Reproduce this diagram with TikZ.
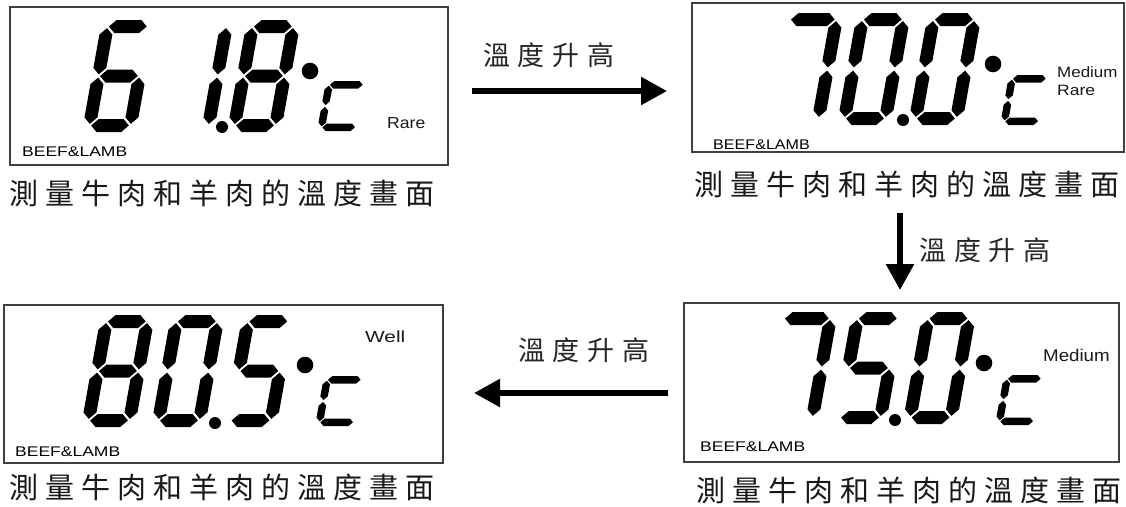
\documentclass[tikz,border=0pt]{standalone}
\usepackage{fontspec}
\setmainfont{Liberation Sans}
\newfontfamily\cjk{Noto Sans CJK TC}
\usepackage{graphicx}
\usetikzlibrary{arrows.meta}

\tikzset{
 panel/.style={draw=black!75, line width=1.3pt, anchor=north west, inner sep=0pt, outer sep=0pt},
 lcd/.style={fill=black},
 lbl/.style={anchor=west, inner sep=0pt, text=black!90},
 tag/.style={anchor=west, inner sep=0pt, font=\fontsize{14}{16}\selectfont},
 capt/.style={inner sep=0pt, font=\cjk\fontsize{29}{32}\selectfont, text=black!90},
 uplbl/.style={inner sep=0pt, font=\cjk\fontsize{27}{30}\selectfont, text=black!85},
 bigarrow/.style={line width=5.5pt, -{Triangle[length=26pt,width=27pt]}},
}

% horizontal segment: #1 = centre y, #2 = extra left extension
\newcommand\hseg[2]{\fill[lcd] ({\dTh+\dG-#2},{#1}) -- ({\dT+\dG-#2},{#1-\dTh}) -- ({\dW-\dT-\dG},{#1-\dTh}) -- ({\dW-\dTh-\dG},{#1}) -- ({\dW-\dT-\dG},{#1+\dTh}) -- ({\dT+\dG-#2},{#1+\dTh}) -- cycle;}
% vertical segment: #1 = centre x, #2 top tip y, #3 bottom tip y
\newcommand\vseg[3]{\fill[lcd] ({#1},{#2}) -- ({#1+\dTh},{#2+\dTh}) -- ({#1+\dTh},{#3-\dTh}) -- ({#1},{#3}) -- ({#1-\dTh},{#3-\dTh}) -- ({#1-\dTh},{#2+\dTh}) -- cycle;}
% flags a b c d e f g
\def\segflags#1#2#3#4#5#6#7{%
 \ifnum#1>0 \ifnum#1=2 \hseg{\dTh}{6}\else\hseg{\dTh}{0}\fi\fi
 \ifnum#2>0 \vseg{\dW-\dTh}{\dTh+\dG}{\dM-\dG}\fi
 \ifnum#3>0 \vseg{\dW-\dTh}{\dM+\dG}{\dH-\dTh-\dG}\fi
 \ifnum#4>0 \hseg{\dH-\dTh}{0}\fi
 \ifnum#5>0 \vseg{\dTh}{\dM+\dG}{\dH-\dTh-\dG}\fi
 \ifnum#6>0 \vseg{\dTh}{\dTh+\dG}{\dM-\dG}\fi
 \ifnum#7>0 \hseg{\dM}{0}\fi}
\newcommand\sevseg[6]{\begin{scope}[shift={(#1,#2)},xslant=0.18]
 \def\dW{#3}\def\dH{#4}\def\dT{#5}%
 \pgfmathsetmacro\dTh{#5/2}\pgfmathsetmacro\dG{#5/8}\pgfmathsetmacro\dM{#4/2}%
 \segflags#6\end{scope}}
\newcommand\digit[3]{\sevseg{#1}{#2}{54}{112}{13}{#3}}
\newcommand\degC[2]{\sevseg{#1}{#2}{42}{50}{7.5}{1001110}}

\newcommand\capttext{測\kern7pt 量\kern7pt 牛\kern7pt 肉\kern7pt 和\kern7pt 羊\kern7pt 肉\kern7pt 的\kern7pt 溫\kern7pt 度\kern7pt 畫\kern7pt 面}
\newcommand\risetext{溫\kern8pt 度\kern8pt 升\kern8pt 高}

\begin{document}
\begin{tikzpicture}[x=1pt,y=-1pt]
\useasboundingbox (0,0) rectangle (1126,506);
\fill[white] (0,0) rectangle (1126,506);

% panels
\node[panel, minimum width=438pt, minimum height=158pt] (p1) at (10,7) {};
\node[panel, minimum width=432pt, minimum height=149pt] (p2) at (692,3) {};
\node[panel, minimum width=439pt, minimum height=158pt] (p3) at (4,305) {};
\node[panel, minimum width=435pt, minimum height=159pt] (p4) at (684,303) {};

% panel 1: 61.8
\digit{102}{20}{1011111}
\digit{180}{20}{0110000}
\digit{247}{20}{1111111}
\fill (222,127) circle[radius=6pt];
\fill (310,71) circle[radius=8.3pt];
\degC{326}{81}
\node[lbl, font=\fontsize{16}{18}\selectfont] (t1) at (387,123) {\scalebox{1.1}[1]{Rare}};
\node[tag] (b1) at (22,152) {\scalebox{1.25}[1]{BEEF\&LAMB}};

% panel 2: 70.0
\digit{790}{13}{2110000}
\digit{857}{13}{1111110}
\digit{928}{13}{1111110}
\fill (903,120) circle[radius=6pt];
\fill (993,64) circle[radius=8.3pt];
\degC{1009}{75}
\node[lbl, font=\fontsize{15}{17}\selectfont] (t2a) at (1057,72) {\scalebox{1.13}[1]{Medium}};
\node[lbl, font=\fontsize{15}{17}\selectfont] (t2b) at (1057,90) {\scalebox{1.17}[1]{Rare}};
\node[tag] (b2) at (713,145) {\scalebox{1.15}[1]{BEEF\&LAMB}};

% panel 3: 80.5
\digit{101}{315}{1111111}
\digit{171}{315}{1111110}
\digit{242.5}{315}{1011011}
\fill (215,423) circle[radius=6pt];
\fill (305,365) circle[radius=8.3pt];
\degC{324}{376}
\node[lbl, font=\fontsize{16}{18}\selectfont] (t3) at (365,337) {\scalebox{1.3}[1]{Well}};
\node[tag] (b3) at (15,452) {\scalebox{1.25}[1]{BEEF\&LAMB}};

% panel 4: 75.0
\digit{784}{312}{2110000}
\digit{852}{312}{1011011}
\digit{922.6}{312}{1111110}
\fill (895,420) circle[radius=6pt];
\fill (984,363) circle[radius=8.3pt];
\degC{1004}{375}
\node[lbl, font=\fontsize{17}{19}\selectfont] (t4) at (1043,355) {\scalebox{1.1}[1]{Medium}};
\node[tag] (b4) at (700,447) {\scalebox{1.25}[1]{BEEF\&LAMB}};

% captions
\node[capt] (c1) at (222,193) {\capttext};
\node[capt] (c2) at (907,184) {\capttext};
\node[capt] (c3) at (222,487) {\capttext};
\node[capt] (c4) at (909,490) {\capttext};

% arrows
\coordinate (a1s) at (472,91);  \coordinate (a1e) at (667,91);
\coordinate (a2s) at (900,213); \coordinate (a2e) at (900,290);
\coordinate (a3s) at (668,393); \coordinate (a3e) at (474,393);
\draw[bigarrow] (a1s) -- (a1e);
\draw[bigarrow] (a2s) -- (a2e);
\draw[bigarrow] (a3s) -- (a3e);
\node[uplbl] (l1) at (549,55) {\risetext};
\node[uplbl] (l2) at (985,250) {\risetext};
\node[uplbl] (l3) at (584,350) {\risetext};
\end{tikzpicture}
\end{document}
